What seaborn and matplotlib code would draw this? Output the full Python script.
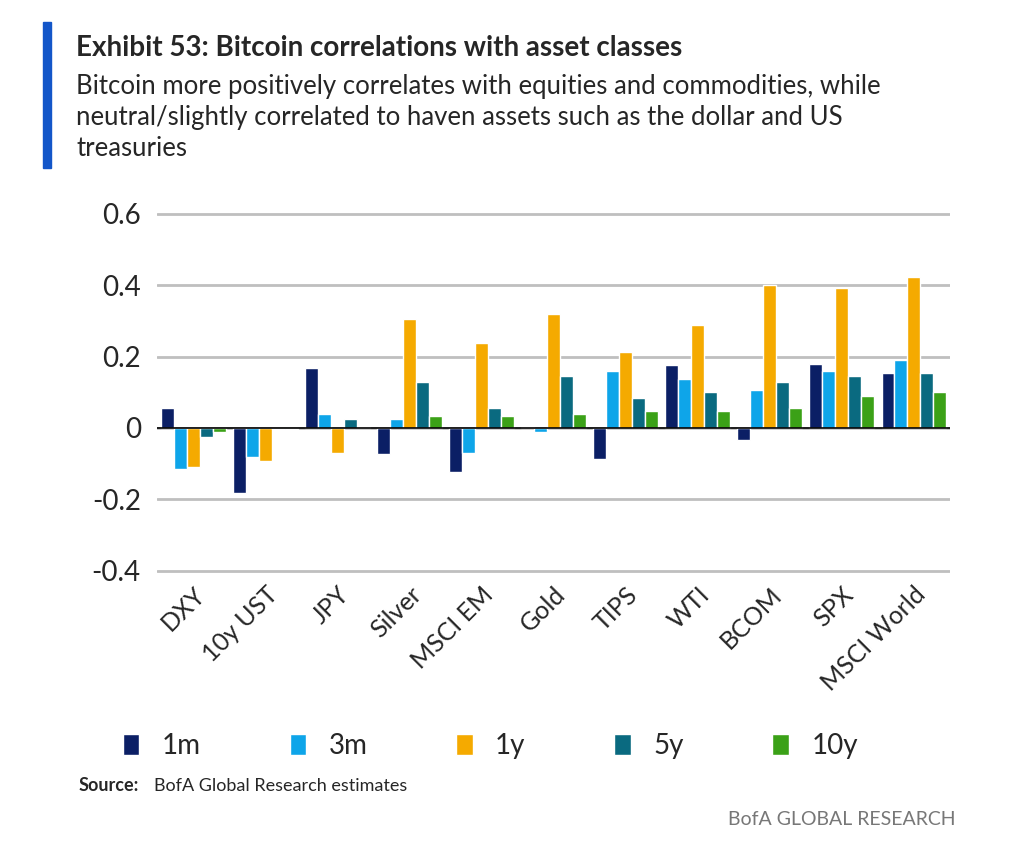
import numpy as np
import pandas as pd
import seaborn as sns
import matplotlib.pyplot as plt
from matplotlib.patches import Rectangle

# data
assets = ["DXY", "10y UST", "JPY", "Silver", "MSCI EM", "Gold", "TIPS", "WTI", "BCOM", "SPX", "MSCI World"]
horizons = ["1m", "3m", "1y", "5y", "10y"]
corr_1m = [0.056, -0.183, 0.169, -0.073, -0.124, 0.003, -0.087, 0.175, -0.035, 0.180, 0.153]
corr_3m = [-0.115, -0.080, 0.040, 0.025, -0.070, -0.010, 0.160, 0.138, 0.107, 0.160, 0.190]
corr_1y = [-0.110, -0.093, -0.070, 0.304, 0.237, 0.318, 0.214, 0.287, 0.400, 0.392, 0.423]
corr_5y = [-0.025, -0.003, 0.025, 0.130, 0.056, 0.146, 0.085, 0.100, 0.130, 0.146, 0.153]
corr_10y = [-0.010, -0.003, 0.002, 0.034, 0.034, 0.040, 0.048, 0.048, 0.055, 0.090, 0.100]
colors = ["#0b1f65", "#0ea5e9", "#f5aa00", "#0a6a80", "#3ba117"]

rows = []
for h, vals in zip(horizons, [corr_1m, corr_3m, corr_1y, corr_5y, corr_10y]):
    for a, v in zip(assets, vals):
        rows.append({"asset": a, "horizon": h, "value": v})
df = pd.DataFrame(rows)

sns.set_style("white")
plt.rcParams['font.family'] = ['Lato', 'DejaVu Sans']

fig = plt.figure(figsize=(10.16, 8.64), dpi=100)
ax = fig.add_axes([0.155, 0.331, 0.78, 0.43])

sns.barplot(data=df, x="asset", y="value", hue="horizon", palette=colors,
            width=0.9, saturation=1, ax=ax, legend=True)

ax.set_ylim(-0.42, 0.62)
ax.set_yticks([-0.4, -0.2, 0, 0.2, 0.4, 0.6])
ax.set_yticklabels(["-0.4", "-0.2", "0", "0.2", "0.4", "0.6"], fontsize=20)
ax.yaxis.grid(True, color="#bfbfbf", linewidth=2)
ax.set_axisbelow(True)
ax.axhline(0, color="black", linewidth=1.2)
ax.set_xlabel("")
ax.set_ylabel("")
ax.tick_params(axis="x", labelsize=18, length=0)
ax.tick_params(axis="y", length=0, pad=12)
plt.setp(ax.get_xticklabels(), rotation=45, ha="right", rotation_mode="anchor")
for s in ax.spines.values():
    s.set_visible(False)

ax.legend(loc="upper center", bbox_to_anchor=(0.42, -0.35), ncol=5, frameon=False,
          fontsize=20, handlelength=0.6, handleheight=0.8, columnspacing=3.2)

# header
fig.patches.append(Rectangle((0.042, 0.805), 0.008, 0.17, transform=fig.transFigure,
                             color="#1356c9"))
fig.text(0.075, 0.935, "Exhibit 53: Bitcoin correlations with asset classes",
         fontsize=20, fontweight="bold")
fig.text(0.075, 0.82, "Bitcoin more positively correlates with equities and commodities, while\n"
         "neutral/slightly correlated to haven assets such as the dollar and US\ntreasuries",
         fontsize=18.5, linespacing=1.3)
fig.text(0.077, 0.085, "Source:", fontsize=13, fontweight="bold")
fig.text(0.152, 0.085, "BofA Global Research estimates", fontsize=13)
fig.text(0.94, 0.045, "BofA GLOBAL RESEARCH", fontsize=14, color="#777777", ha="right")

fig.savefig("out.png", dpi=100)
